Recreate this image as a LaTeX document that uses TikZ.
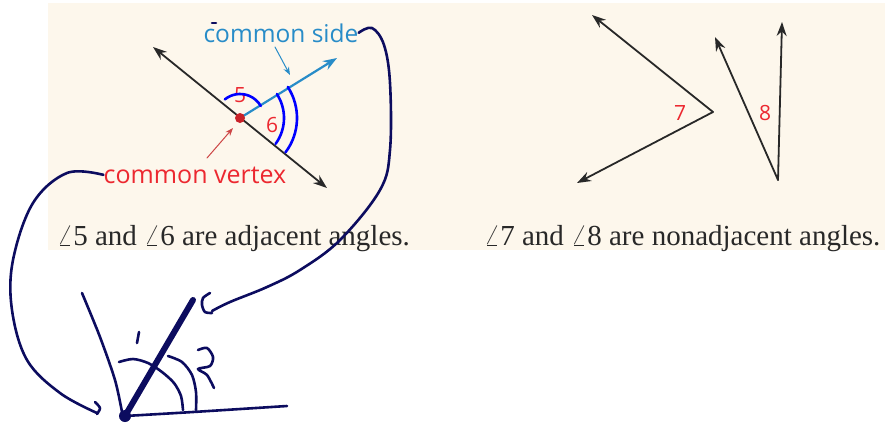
\documentclass[tikz,border=0pt]{standalone}
\usepackage{fontspec}
\setmainfont{Liberation Serif}
\newfontfamily\labelfont{Open Sans}
\usetikzlibrary{arrows.meta}
\definecolor{panel}{RGB}{253,247,236}
\definecolor{ink}{RGB}{40,40,40}
\definecolor{sideblue}{RGB}{40,140,200}
\definecolor{vertred}{RGB}{236,40,48}
\definecolor{arrred}{RGB}{205,70,70}
\definecolor{penblue}{RGB}{0,0,255}
\definecolor{navy}{RGB}{12,12,95}
\tikzset{
  ray/.style={draw=ink, line width=1.8pt},
  numlab/.style={text=vertred, font=\labelfont\fontsize{21}{23}\selectfont, inner sep=0pt},
  caption/.style={text=ink, font=\fontsize{29}{32}\selectfont, anchor=base west, inner sep=0pt},
  pen/.style={draw=navy, line width=2.6pt},
  penarc/.style={draw=penblue, line width=2.6pt}
}
\begin{document}
\begin{tikzpicture}[x=1pt, y=-1pt, line join=round, line cap=round, >={Stealth[length=14pt,width=10pt]}]
  \useasboundingbox (0,0) rectangle (885,426);
  \fill[panel] (48,3) rectangle (885,250);
  % adjacent angles
  \coordinate (V) at (240,118);
  \coordinate (L1) at (153,47);
  \coordinate (L2) at (327,188);
  \coordinate (S) at (337,58);
  \draw[ray, <->] (L1) -- (L2);
  \draw[draw=sideblue, line width=2.2pt, ->] (V) -- (S);
  \fill[vertred!85!black] (V) circle (5);
  \node[text=sideblue, font=\labelfont\fontsize{24.5}{26}\selectfont, anchor=base, inner sep=0pt] (cside) at (281,42) {common side};
  \node[text=vertred, font=\labelfont\fontsize{25}{27}\selectfont, anchor=base, inner sep=0pt] (cvertex) at (195,183) {common vertex};
  \coordinate (sidetip) at (290,75);
  \coordinate (verttip) at (233,128);
  \draw[draw=sideblue, line width=1pt, -{Stealth[length=8pt,width=6pt]}] (275,47) -- (sidetip);
  \draw[draw=arrred, line width=1pt, -{Stealth[length=8pt,width=6pt]}] (207,158) -- (verttip);
  \node[numlab] (lab5) at (240,95) {5};
  \node[numlab] (lab6) at (272,125) {6};
  \draw[penarc] (V) ++(-129:24) arc[start angle=-129, end angle=-30, radius=24];
  \draw[penarc] (V) ++(-33:44) arc[start angle=-33, end angle=36, radius=44];
  \draw[penarc] (V) ++(-33:57) arc[start angle=-33, end angle=37, radius=57];
  \node[caption] (cap1) at (57,245) {$\angle$5 and $\angle$6 are adjacent angles.};
  % nonadjacent angles
  \coordinate (W7) at (713,112);
  \coordinate (W8) at (778,180);
  \foreach \p/\q in {W7/{(592,15)}, W7/{(577,183)}, W8/{(715,37)}, W8/{(782,22)}}{\draw[ray, ->] (\p) -- \q;}
  \node[numlab] (lab7) at (680,113) {7};
  \node[numlab] (lab8) at (765,113) {8};
  \node[caption] (cap2) at (484,245) {$\angle$7 and $\angle$8 are nonadjacent angles.};
  % pen sketch
  \coordinate (P) at (125,416);
  \coordinate (Q) at (193,300);
  \draw[pen] (212,23) -- (216,23);
  \draw[pen] plot[smooth, tension=0.6] coordinates {(cvertex.west) (67,173) (33,203) (13,260) (12,310) (27,360) (60,393) (97,413)};
  \draw[pen] plot[smooth] coordinates {(95,402) (100,408) (97,414)};
  \draw[pen] plot[smooth, tension=0.6] coordinates {(cside.east) (372,28) (384,45) (390,83) (390,150) (380,190) (340,240) (300,270) (267,287) (230,302) (212,311)};
  \draw[pen] plot[smooth] coordinates {(212,313) (205,312) (202,305) (203,298) (210,293)};
  \draw[pen, line width=6pt] (P) -- (Q);
  \fill[navy] (P) circle (6);
  \draw[pen] plot[smooth] coordinates {(82,293) (100,337) (115,380) (122,412)};
  \draw[pen] plot[smooth] coordinates {(P) (193,412) (287,406)};
  \draw[pen] (139,332) -- (137,343);
  \draw[pen] plot[smooth] coordinates {(119,362) (133,359) (148,363) (162,372) (174,383) (181,396) (183,410)};
  \draw[pen] plot[smooth] coordinates {(168,356) (182,362) (192,375) (196,392) (196,410)};
  \draw[pen] plot[smooth] coordinates {(198,350) (207,348) (213,357) (210,366) (198,369) (207,375) (214,388)};
\end{tikzpicture}
\end{document}
